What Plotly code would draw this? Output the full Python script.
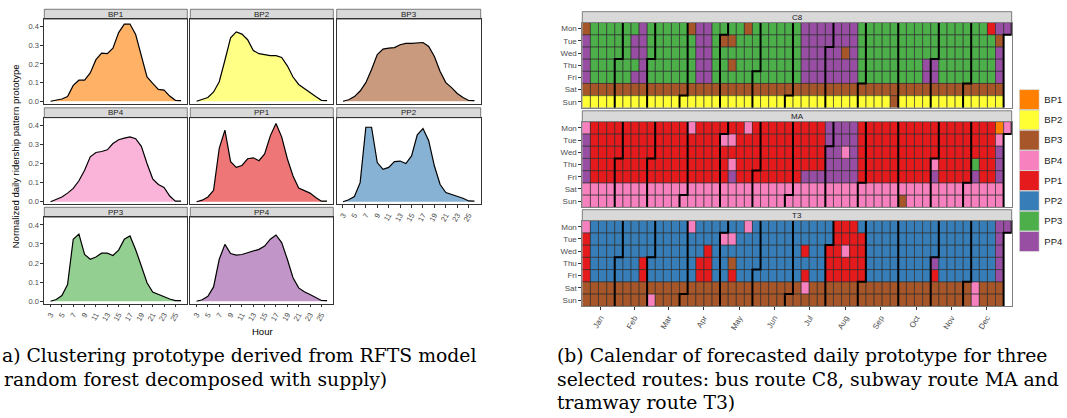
import datetime
import plotly.graph_objects as go

W, H = 1067, 418
SANS = "Liberation Sans, Arial, sans-serif"
SERIF = "DejaVu Serif, serif"


def px(x):
    return x / W


def py(y):
    return 1 - y / H


# ---------------- data: (a) hourly prototypes ----------------
HOURS = list(range(3, 27))
HOUR_TICKS = [3, 5, 7, 9, 11, 13, 15, 17, 19, 21, 23, 25]
Y_TICKS = [0.0, 0.1, 0.2, 0.3, 0.4]

PROTOTYPES = ["BP1", "BP2", "BP3", "BP4", "PP1", "PP2", "PP3", "PP4"]
COLORS = ["#FF7F00", "#FFFF33", "#A65628", "#F781BF", "#E41A1C", "#377EB8", "#4DAF4A", "#984EA3"]

BP1 = [0.0, 0.005, 0.012, 0.025, 0.085, 0.113, 0.113, 0.152, 0.223, 0.258, 0.255, 0.285,
       0.368, 0.414, 0.414, 0.358, 0.243, 0.131, 0.096, 0.064, 0.06, 0.028, 0.005, 0.003]
BP2 = [0.0, 0.008, 0.02, 0.05, 0.105, 0.22, 0.34, 0.372, 0.36, 0.33, 0.272, 0.255,
       0.25, 0.245, 0.245, 0.235, 0.19, 0.13, 0.09, 0.067, 0.046, 0.025, 0.005, 0.003]
BP3 = [0.0, 0.008, 0.025, 0.055, 0.1, 0.17, 0.25, 0.28, 0.285, 0.288, 0.303, 0.31,
       0.31, 0.312, 0.315, 0.294, 0.24, 0.16, 0.1, 0.073, 0.042, 0.02, 0.004, 0.003]
BP4 = [0.0, 0.012, 0.025, 0.045, 0.07, 0.11, 0.165, 0.235, 0.258, 0.263, 0.272, 0.305,
       0.325, 0.333, 0.34, 0.33, 0.29, 0.2, 0.12, 0.09, 0.075, 0.03, 0.003, 0.003]
PP1 = [0.0, 0.008, 0.025, 0.06, 0.28, 0.375, 0.21, 0.18, 0.19, 0.225, 0.23, 0.215,
       0.25, 0.345, 0.41, 0.34, 0.225, 0.135, 0.072, 0.058, 0.045, 0.022, 0.003, 0.003]
PP2 = [0.0, 0.01, 0.027, 0.1, 0.39, 0.39, 0.205, 0.17, 0.18, 0.21, 0.213, 0.2,
       0.24, 0.35, 0.383, 0.32, 0.187, 0.09, 0.048, 0.039, 0.03, 0.018, 0.004, 0.003]
PP3 = [0.0, 0.009, 0.03, 0.088, 0.325, 0.352, 0.245, 0.22, 0.232, 0.252, 0.252, 0.24,
       0.268, 0.325, 0.342, 0.27, 0.185, 0.097, 0.048, 0.035, 0.025, 0.012, 0.003, 0.003]
PP4 = [0.0, 0.008, 0.026, 0.075, 0.22, 0.298, 0.25, 0.242, 0.245, 0.253, 0.262, 0.272,
       0.289, 0.325, 0.347, 0.307, 0.22, 0.123, 0.07, 0.05, 0.035, 0.018, 0.004, 0.003]
PROFILES = {"BP1": BP1, "BP2": BP2, "BP3": BP3, "BP4": BP4,
            "PP1": PP1, "PP2": PP2, "PP3": PP3, "PP4": PP4}

# ---------------- data: (b) calendar (one letter per day, week columns) ----------------
YEAR = 2018
DAYS = ["Mon", "Tue", "Wed", "Thu", "Fri", "Sat", "Sun"]
MONTHS = ["Jan", "Feb", "Mar", "Apr", "May", "Jun", "Jul", "Aug", "Sep", "Oct", "Nov", "Dec"]
ROUTES = ["C8", "MA", "T3"]
# letters: O=BP1 Y=BP2 B=BP3 K=BP4 R=PP1 L=PP2 G=PP3 P=PP4 .=no day
CODES = {"O": "BP1", "Y": "BP2", "B": "BP3", "K": "BP4", "R": "PP1", "L": "PP2", "G": "PP3", "P": "PP4"}

C8 = [
    "B" "GGGGGG" "P" "GGGGG" "B" "PP" "GGGG" "B" "GGGGGG" "PPPPPPP" "GGGGGGGGGGGGGGGG" "R" "PP",
    "P" "GGGGG" "PP" "GGGGGG" "PP" "G" "BB" "GGGGGGGG" "PPPPPPP" "GGGGGGGGGGGGGGGGG" "B" ".",
    "P" "GGGGG" "PP" "GGGGGG" "PP" "GGGGGGGGGGG" "PPPPP" "B" "P" "GGGGGGGGGGGGGGGGG" "P" ".",
    "P" "GGGGGG" "P" "GGGGGG" "PP" "GG" "B" "GGGGGGGG" "PPPPPPP" "GGGGGGGG" "PP" "GGGGGGG" "P" ".",
    "P" "GGGGG" "PP" "GGGGGG" "PP" "GGGGGGGGGGG" "PPPPPPP" "GGGGGGGG" "PP" "GGGGGGG" "P" ".",
    "BBBBBBBBBBBBBBBBBBBBBBBBBBBBBBBBBBBBBBBBBBBBBBBBBBBB" ".",
    "YYYYYYYYYYYYYYYYYYYYYYYYYYYYYYYYYYYYYY" "B" "YYYYYYYYYYYYY" ".",
]
MA = [
    "K" "RRRRRRRRRRRR" "K" "RRRRRR" "K" "RRRRRRRRR" "PPPP" "RRRRRRRRRRRRRRRRR" "O" "K",
    "P" "RRRRRRRRRRRRRRRR" "KK" "RRRRRRRRRRR" "PPPP" "RRRRRRRRRRRRRRRRR" "K" ".",
    "P" "RRRRRRRRRRRRRRRRRRRRRRRRRRRRR" "PP" "K" "P" "RRRRRRRRRRRRRRRRR" "P" ".",
    "P" "RRRRRRRRRRRRRRRRR" "K" "RRRRRRRRRRR" "PPPP" "RRRRRRRRR" "K" "RRRR" "G" "RR" "P" ".",
    "P" "RRRRRRRRRRRRRRRRR" "P" "RRRRRRRR" "PPPPPPP" "RRRRRRRRR" "P" "RRRR" "P" "RR" "P" ".",
    "KKKKKKKKKKKKKKKKKKKKKKKKKKKKKKKKKKKKKKKKKKKKKKKKKKKK" ".",
    "KKKKKKKKKKKKKKKKKKKKKKKKKKKKKKKKKKKKKKK" "B" "KKKKKKKKKKKK" ".",
]
T3 = [
    "K" "LLLLLLLLLLLL" "K" "LLLLLL" "K" "LLLLLLLLLL" "RRR" "LLLLLLLLLLLLLLLLL" "PP",
    "R" "LLLLLLLLLLLLLLLL" "KK" "LLLLLLLLLLLL" "RRRR" "LLLLLLLLLLLLLLLL" "P" ".",
    "R" "LLLLLLLLLLLLLL" "R" "LLLLLLLLLLL" "R" "LL" "RR" "K" "RR" "LLLLLLLLLLLLLLLL" "P" ".",
    "R" "LLLLLL" "R" "LLLLLL" "RR" "LL" "B" "LLLLLLLLLLL" "RRRRR" "LLLLLLLL" "P" "LLLLLLL" "P" ".",
    "R" "LLLLLL" "R" "LLLLLL" "RR" "LL" "R" "LLLLLLLL" "R" "LL" "RRRRR" "LLLLLLLL" "R" "LLLLLLL" "P" ".",
    "BBBBBBBBBBBBBBBBBBBBBBBBBBB" "K" "BBBBBBBBBBBBBBBBBBBB" "K" "BBB" ".",
    "BBBBBBBB" "K" "BBBBBBBBBBBBBBBBBBBBBBBBBBBBBBBBBBBBBBB" "K" "BBB" ".",
]
CALENDAR = {"C8": C8, "MA": MA, "T3": T3}
N_WEEKS = 53
for rt in ROUTES:
    for row in CALENDAR[rt]:
        assert len(row) == N_WEEKS, (rt, len(row))

# ---------------- layout geometry (pixels) ----------------
FACET_POS = {"BP1": (0, 0), "BP2": (0, 1), "BP3": (0, 2), "BP4": (1, 0),
             "PP1": (1, 1), "PP2": (1, 2), "PP3": (2, 0), "PP4": (2, 1)}
BOTTOM_FACETS = {"PP2", "PP3", "PP4"}
COL_X = [(44.3, 187.3), (190.3, 333.3), (336.7, 480.7)]
ROW_Y = [(19.3, 104.0), (118.3, 205.0), (218.3, 305.0)]
STRIP_H = 10.0

CAL_X = (582.3, 1011.7)
CAL_Y = {"C8": (22.7, 108.3), "MA": (122.3, 208.3), "T3": (221.7, 307.7)}
CAL_STRIP_H = 11.0

LEG_X = (1019.3, 1039.3)
LEG_Y = (90.0, 252.7)

BORDER = "#333333"
STRIP_FILL = "#D9D9D9"
TICK_FONT = dict(family=SANS, size=7.5, color="#4d4d4d")


def rgba(hexc, a):
    h = hexc.lstrip("#")
    return "rgba(%d,%d,%d,%.2f)" % (int(h[0:2], 16), int(h[2:4], 16), int(h[4:6], 16), a)


fig = go.Figure()
layout = dict(width=W, height=H, autosize=False, margin=dict(l=0, r=0, t=0, b=0),
              paper_bgcolor="white", plot_bgcolor="white", showlegend=False,
              font=dict(family=SANS, size=8, color="#4d4d4d"))
shapes, annotations = [], []
counter = [0]


def new_axes():
    counter[0] += 1
    return "" if counter[0] == 1 else str(counter[0])


def strip(x0, x1, ytop, ybot, text):
    shapes.append(dict(type="rect", xref="paper", yref="paper", x0=px(x0), x1=px(x1),
                       y0=py(ybot), y1=py(ytop), fillcolor=STRIP_FILL,
                       line=dict(color=BORDER, width=0.6), layer="below"))
    annotations.append(dict(xref="paper", yref="paper", x=px((x0 + x1) / 2), y=py((ytop + ybot) / 2),
                            text=text, showarrow=False, xanchor="center", yanchor="middle",
                            font=dict(family=SANS, size=8, color="#1a1a1a")))


# ---------------- (a) facets ----------------
for i, name in enumerate(PROTOTYPES):
    r, c = FACET_POS[name]
    s = new_axes()
    x0, x1 = COL_X[c]
    y0, y1 = ROW_Y[r]
    bottom = name in BOTTOM_FACETS
    left = c == 0
    layout["xaxis" + s] = dict(domain=[px(x0), px(x1)], anchor="y" + s, range=[1.9, 27.1],
                               showgrid=False, zeroline=False, showline=True, mirror=True,
                               linecolor=BORDER, linewidth=0.8, tickvals=HOUR_TICKS,
                               ticks="outside" if bottom else "", ticklen=3, tickcolor=BORDER,
                               tickwidth=0.6, showticklabels=bottom, tickangle=-60,
                               tickfont=TICK_FONT)
    layout["yaxis" + s] = dict(domain=[py(y1), py(y0)], anchor="x" + s, range=[-0.012, 0.44],
                               showgrid=False, zeroline=False, showline=True, mirror=True,
                               linecolor=BORDER, linewidth=0.8, tickvals=Y_TICKS,
                               ticktext=["%.1f" % v for v in Y_TICKS],
                               ticks="outside" if left else "", ticklen=3, tickcolor=BORDER,
                               tickwidth=0.6, showticklabels=left, tickfont=TICK_FONT)
    fig.add_trace(go.Scatter(x=HOURS, y=PROFILES[name], mode="lines", fill="tozeroy",
                             fillcolor=rgba(COLORS[i], 0.6), line=dict(color="black", width=1.2),
                             xaxis="x" + s, yaxis="y" + s, hoverinfo="skip"))
    strip(x0, x1, y0 - STRIP_H, y0, name)

annotations.append(dict(xref="paper", yref="paper", x=px((COL_X[0][0] + COL_X[2][1]) / 2), y=py(333),
                        text="Hour", showarrow=False, xanchor="center", yanchor="middle",
                        font=dict(family=SANS, size=9.5, color="black")))
annotations.append(dict(xref="paper", yref="paper", x=px(15), y=py(157), textangle=-90,
                        text="Normalized daily ridership pattern prototype", showarrow=False,
                        xanchor="center", yanchor="middle",
                        font=dict(family=SANS, size=9.5, color="black")))

# ---------------- (b) calendar ----------------
n_cat = len(PROTOTYPES)
colorscale = []
for k, col in enumerate(COLORS):
    colorscale.append([k / n_cat, col])
    colorscale.append([(k + 1) / n_cat, col])
CODE_INDEX = {ch: PROTOTYPES.index(p) for ch, p in CODES.items()}

jan1 = datetime.date(YEAR, 1, 1)
offset = jan1.weekday()


def cell_of(d):
    doy = (d - jan1).days
    return (doy + offset) // 7, d.weekday()


# month tick positions = mean week column of the month's days
month_ticks = []
for m in range(1, 13):
    d = datetime.date(YEAR, m, 1)
    cols = []
    while d.month == m:
        cols.append(cell_of(d)[0])
        d += datetime.timedelta(days=1)
    month_ticks.append(sum(cols) / len(cols))

# month end boundaries (first day of the following month)
month_paths_x, month_paths_y = [], []
for m in range(1, 13):
    nxt = datetime.date(YEAR + (m == 12), m % 12 + 1, 1)
    c, r = cell_of(nxt)
    if r == 0:
        xs, ys = [c - 0.5, c - 0.5], [-0.5, 6.5]
    else:
        xs = [c + 0.5, c + 0.5, c - 0.5, c - 0.5]
        ys = [-0.5, r - 0.5, r - 0.5, 6.5]
    month_paths_x += xs + [None]
    month_paths_y += ys + [None]

for route in ROUTES:
    s = new_axes()
    rows = CALENDAR[route]
    z = [[CODE_INDEX[ch] if ch != "." else None for ch in row] for row in rows]
    fig.add_trace(go.Heatmap(z=z, x=list(range(N_WEEKS)), y=list(range(7)), zmin=-0.5,
                             zmax=n_cat - 0.5, colorscale=colorscale, showscale=False,
                             xaxis="x" + s, yaxis="y" + s, hoverinfo="skip"))
    gx, gy = [], []
    for r_i, row in enumerate(rows):
        for c_i, ch in enumerate(row):
            if ch == ".":
                continue
            gx += [c_i - 0.5, c_i + 0.5, c_i + 0.5, c_i - 0.5, c_i - 0.5, None]
            gy += [r_i - 0.5, r_i - 0.5, r_i + 0.5, r_i + 0.5, r_i - 0.5, None]
    fig.add_trace(go.Scatter(x=gx, y=gy, mode="lines", line=dict(color="#333333", width=0.5),
                             xaxis="x" + s, yaxis="y" + s, hoverinfo="skip"))
    fig.add_trace(go.Scatter(x=month_paths_x, y=month_paths_y, mode="lines",
                             line=dict(color="black", width=2), xaxis="x" + s, yaxis="y" + s,
                             hoverinfo="skip"))
    last = route == ROUTES[-1]
    yt, yb = CAL_Y[route]
    layout["xaxis" + s] = dict(domain=[px(CAL_X[0]), px(CAL_X[1])], anchor="y" + s,
                               range=[-0.5, N_WEEKS - 0.5], showgrid=False, zeroline=False,
                               showline=True, mirror=True, linecolor="#7f7f7f", linewidth=0.8,
                               tickvals=month_ticks, ticktext=MONTHS,
                               ticks="outside" if last else "", ticklen=3, tickcolor=BORDER,
                               tickwidth=0.6, showticklabels=last, tickangle=-60,
                               tickfont=dict(family=SANS, size=8, color="#4d4d4d"))
    layout["yaxis" + s] = dict(domain=[py(yb), py(yt)], anchor="x" + s, range=[6.5, -0.5],
                               showgrid=False, zeroline=False, showline=True, mirror=True,
                               linecolor="#7f7f7f", linewidth=0.8, tickvals=list(range(7)),
                               ticktext=DAYS, ticks="outside", ticklen=3, tickcolor=BORDER,
                               tickwidth=0.6, tickfont=dict(family=SANS, size=8, color="#4d4d4d"))
    strip(CAL_X[0], CAL_X[1], yt - CAL_STRIP_H, yt, route)

# ---------------- legend (as a one-column heatmap of the categories) ----------------
s = new_axes()
fig.add_trace(go.Heatmap(z=[[k] for k in range(n_cat)], x=[0], y=list(range(n_cat)), zmin=-0.5,
                         zmax=n_cat - 0.5, colorscale=colorscale, showscale=False,
                         xaxis="x" + s, yaxis="y" + s, hoverinfo="skip"))
lx, ly = [], []
for k in range(n_cat):
    lx += [-0.5, 0.5, 0.5, -0.5, -0.5, None]
    ly += [k - 0.5, k - 0.5, k + 0.5, k + 0.5, k - 0.5, None]
fig.add_trace(go.Scatter(x=lx, y=ly, mode="lines", line=dict(color="#d0d0d0", width=1),
                         xaxis="x" + s, yaxis="y" + s, hoverinfo="skip"))
layout["xaxis" + s] = dict(domain=[px(LEG_X[0]), px(LEG_X[1])], anchor="y" + s, range=[-0.5, 0.5],
                           visible=False)
layout["yaxis" + s] = dict(domain=[py(LEG_Y[1]), py(LEG_Y[0])], anchor="x" + s,
                           range=[n_cat - 0.5, -0.5], side="right", showgrid=False, zeroline=False,
                           showline=False, tickvals=list(range(n_cat)), ticktext=PROTOTYPES,
                           ticks="", ticklabelstandoff=4,
                           tickfont=dict(family=SANS, size=9.5, color="#1a1a1a"))

# ---------------- captions (as visible in the cropped reference) ----------------
CAP_SIZE = 18.8
CAPTIONS = [
    (0.0, 357, "a) Clustering prototype derived from RFTS model"),
    (1.5, 381, "random forest decomposed with supply)"),
    (555, 357, "(b) Calendar of forecasted daily prototype for three"),
    (555, 381, "selected routes: bus route C8, subway route MA and"),
    (555, 404, "tramway route T3)"),
]
for x, y, t in CAPTIONS:
    annotations.append(dict(xref="paper", yref="paper", x=px(x), y=py(y), text=t, showarrow=False,
                            xanchor="left", yanchor="middle",
                            font=dict(family=SERIF, size=CAP_SIZE, color="black")))

layout["shapes"] = shapes
layout["annotations"] = annotations
fig.update_layout(**layout)
fig.write_html("out.html", config={"displayModeBar": False},
               post_script="document.body.style.margin='0';document.body.style.overflow='hidden';")
